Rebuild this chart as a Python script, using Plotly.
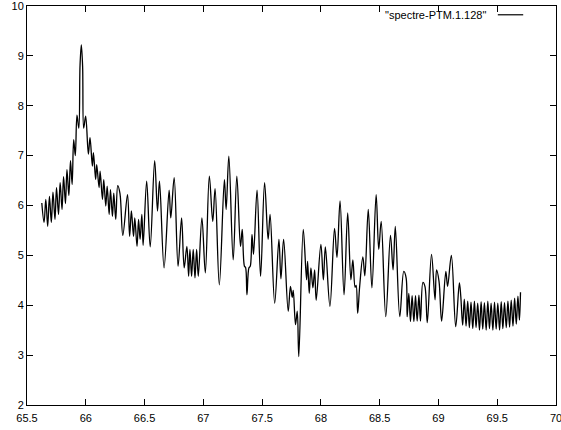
import plotly.graph_objects as go

# Spectrum turning points (frequency, amplitude)
freq_main = [
    65.626, 65.645, 65.660, 65.676, 65.691, 65.707, 65.721, 65.738, 65.751, 65.768,
    65.782, 65.798, 65.811, 65.827, 65.840, 65.856, 65.870, 65.884, 65.897, 65.911,
    65.925, 65.941, 65.951, 65.962, 65.973, 65.982, 65.999, 66.022, 66.036, 66.056,
    66.065, 66.084, 66.093, 66.113, 66.122, 66.142, 66.153, 66.170, 66.182, 66.199,
    66.210, 66.227, 66.238, 66.255, 66.272, 66.291, 66.315, 66.355, 66.373, 66.388,
    66.406, 66.417, 66.436, 66.449, 66.462, 66.477, 66.488, 66.518, 66.548, 66.586,
    66.610, 66.627, 66.666, 66.709, 66.723, 66.752, 66.785, 66.815, 66.837, 66.860,
    66.875, 66.886, 66.900, 66.914, 66.929, 66.943, 66.957, 66.988, 67.017, 67.051,
    67.080, 67.100, 67.136, 67.179, 67.194, 67.217, 67.254, 67.285, 67.316, 67.331,
    67.350, 67.359, 67.371, 67.388, 67.399, 67.414, 67.427, 67.457, 67.487, 67.521,
    67.551, 67.568, 67.607, 67.643, 67.660, 67.683, 67.722, 67.741, 67.756, 67.765,
    67.784, 67.799, 67.812, 67.850, 67.878, 67.887, 67.901, 67.915, 67.932, 67.947,
    67.960, 68.000, 68.021, 68.038, 68.077, 68.116, 68.137, 68.163, 68.197, 68.228,
    68.255, 68.272, 68.291, 68.300, 68.313, 68.330, 68.357, 68.374, 68.403, 68.434,
    68.470, 68.492, 68.513, 68.552, 68.592, 68.614, 68.633, 68.671, 68.705, 68.725,
    68.734, 68.748, 68.762, 68.776, 68.791, 68.805, 68.819, 68.834, 68.847, 68.868,
    68.885, 68.905, 68.941, 68.971, 68.984, 69.005, 69.027, 69.063, 69.078, 69.110,
    69.147, 69.178, 69.190,
]
amp_main = [
    6.05, 5.66, 6.12, 5.58, 6.18, 5.66, 6.27, 5.72, 6.36, 5.82,
    6.46, 5.92, 6.58, 6.04, 6.72, 6.20, 6.90, 6.42, 7.32, 7.00,
    7.81, 7.55, 8.80, 9.22, 8.80, 7.55, 7.79, 7.03, 7.36, 6.79,
    7.06, 6.52, 6.82, 6.36, 6.69, 6.12, 6.52, 5.99, 6.39, 5.82,
    6.32, 5.78, 6.25, 5.72, 6.40, 6.24, 5.40, 6.22, 5.38, 5.89,
    5.38, 5.75, 5.18, 5.72, 5.32, 5.82, 5.20, 6.49, 5.17, 6.90,
    5.89, 6.49, 4.75, 6.31, 5.75, 6.56, 4.78, 5.75, 4.75, 5.18,
    4.58, 5.12, 4.58, 5.12, 4.55, 5.12, 4.58, 5.75, 4.65, 6.59,
    5.68, 6.34, 4.41, 6.52, 5.92, 6.99, 4.91, 6.59, 5.18, 5.52,
    4.78, 4.76, 4.21, 4.75, 4.78, 5.42, 5.02, 6.31, 4.58, 6.46,
    5.32, 5.82, 4.04, 5.32, 4.53, 5.32, 3.88, 4.38, 4.16, 4.30,
    3.61, 3.88, 2.97, 5.52, 4.51, 4.88, 4.24, 4.75, 4.35, 4.71,
    4.10, 5.22, 4.51, 5.17, 3.98, 5.54, 4.96, 6.09, 4.21, 5.85,
    4.51, 4.91, 4.36, 4.40, 3.84, 4.38, 4.97, 4.59, 5.92, 4.35,
    6.22, 5.12, 5.68, 3.77, 5.40, 4.71, 5.58, 3.77, 4.68, 4.55,
    3.77, 4.24, 3.67, 4.19, 3.67, 4.19, 3.68, 4.20, 3.68, 4.46,
    4.38, 3.65, 5.02, 4.11, 4.71, 4.48, 3.68, 4.68, 4.38, 5.00,
    3.57, 4.45, 4.18,
]

# Fine ripple at the high-frequency end
freq_tail = [
    69.206, 69.220, 69.235, 69.249, 69.263, 69.277, 69.292, 69.306, 69.320, 69.334,
    69.349, 69.363, 69.377, 69.391, 69.406, 69.420, 69.434, 69.448, 69.463, 69.477,
    69.491, 69.505, 69.520, 69.534, 69.548, 69.562, 69.577, 69.591, 69.605, 69.619,
    69.634, 69.648, 69.662, 69.676, 69.689, 69.698,
]
amp_tail = [
    3.60, 4.12, 3.58, 4.08, 3.55, 4.06, 3.53, 4.08, 3.55, 4.04,
    3.50, 4.07, 3.52, 4.05, 3.50, 4.08, 3.53, 4.04, 3.50, 4.06,
    3.52, 4.04, 3.50, 4.07, 3.53, 4.05, 3.55, 4.08, 3.56, 4.10,
    3.58, 4.14, 3.62, 4.18, 3.70, 4.26,
]

x_ticks = [65.5, 66, 66.5, 67, 67.5, 68, 68.5, 69, 69.5, 70]
x_labels = ["65.5", "66", "66.5", "67", "67.5", "68", "68.5", "69", "69.5", "70"]
y_ticks = [2, 3, 4, 5, 6, 7, 8, 9, 10]
series_name = '"spectre-PTM.1.128"'

FONT = dict(family="Liberation Sans, Arial, sans-serif", size=11, color="black")

freq = freq_main + freq_tail
amp = amp_main + amp_tail

fig = go.Figure()
fig.add_trace(go.Scatter(
    x=freq, y=amp, mode="lines",
    line=dict(color="black", width=1.3, shape="spline", smoothing=1.0),
    name=series_name, showlegend=False,
))

axis_common = dict(
    showgrid=False, zeroline=False, showline=True, linecolor="black", linewidth=1,
    mirror="ticks", ticks="inside", ticklen=6, tickcolor="black", tickwidth=1,
    tickfont=FONT, automargin=False, ticklabeloverflow="allow",
)

fig.update_xaxes(range=[65.5, 70], tickvals=x_ticks, ticktext=x_labels,
                 ticklabelstandoff=3, **axis_common)
fig.update_yaxes(range=[2, 10], tickvals=y_ticks, **axis_common)

# Key: title text followed by a short line sample, top right inside the frame
fig.add_annotation(
    xref="paper", yref="paper", x=0.872, y=0.978, xanchor="right", yanchor="middle",
    text=series_name, showarrow=False, font=FONT,
)
fig.add_shape(type="line", xref="paper", yref="paper",
              x0=0.890, x1=0.938, y0=0.978, y1=0.978,
              line=dict(color="black", width=1.2))

fig.update_layout(
    width=561, height=430,
    margin=dict(l=27, r=5, t=6, b=25),
    plot_bgcolor="white", paper_bgcolor="white",
    font=FONT,
)

fig.write_html("out.html")
